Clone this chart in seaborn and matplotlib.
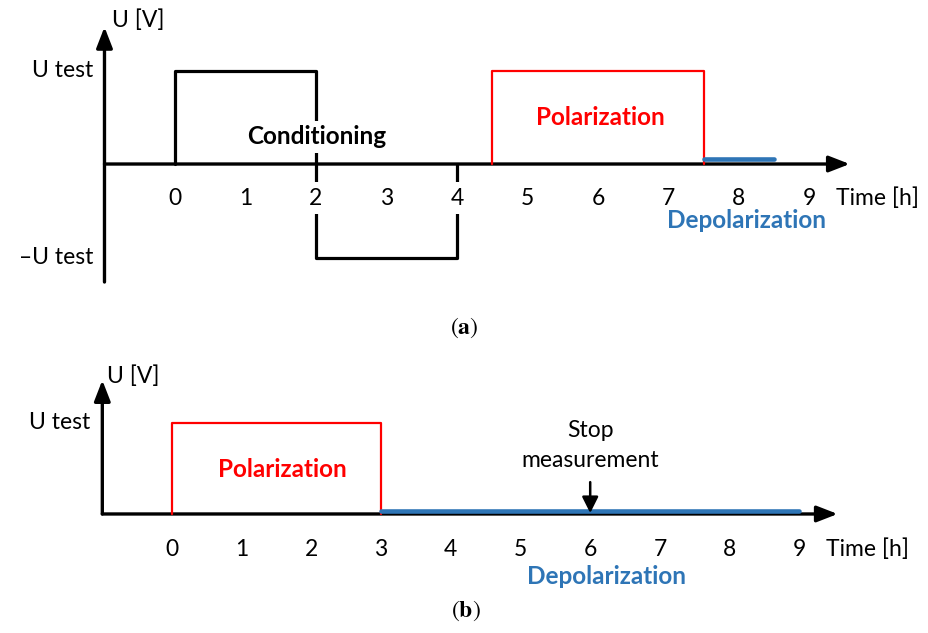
import matplotlib
matplotlib.use("Agg")
import matplotlib.pyplot as plt
import seaborn as sns
import pandas as pd

# panel (a): conditioning square wave, then polarization / depolarization
cond_t = [0, 0, 2, 2, 4, 4]
cond_u = [0, 1, 1, -1, -1, 0]
pol_a_t = [4.5, 4.5, 7.5, 7.5]
pol_a_u = [0, 1, 1, 0]
depol_a_t = [7.5, 8.5]

# panel (b): polarization, then long depolarization with stop marker
pol_b_t = [0, 0, 3, 3]
pol_b_u = [0, 1, 1, 0]
depol_b_t = [3, 9]
stop_t = 6

hours = list(range(10))

RED = "#FF0000"
BLUE = "#2E75B6"

sns.set_style("white")
plt.rcParams["font.family"] = ["Lato", "DejaVu Sans"]
plt.rcParams["text.color"] = "black"
plt.rcParams["mathtext.fontset"] = "stix"

fig = plt.figure(figsize=(9.29, 6.33), dpi=100)
ax_a = fig.add_axes([0, 1 - 340 / 633, 1, 340 / 633])
ax_b = fig.add_axes([0, 0, 1, 293 / 633])
for ax in (ax_a, ax_b):
    ax.set_axis_off()

ax_a.set_xlim(-2.482, 10.695)
ax_a.set_ylim(-1.882, 1.754)
ax_b.set_xlim(-2.468, 10.861)
ax_b.set_ylim(-1.308, 1.912)

FS = 16.5
FSB = 17.5
arrow = dict(arrowstyle="-|>,head_length=0.9,head_width=0.35", color="black", lw=2.4,
             shrinkA=0, shrinkB=0, mutation_scale=14)


def draw_axes(ax, y_bottom, y_top, x_end, tick_y, ulab_x, ulab_y, test_x, neg):
    ax.annotate("", xy=(-1.0, y_top), xytext=(-1.0, y_bottom), arrowprops=arrow, zorder=2)
    ax.annotate("", xy=(x_end, 0), xytext=(-1.0, 0), arrowprops=arrow, zorder=2)
    for h in hours:
        ax.text(h, tick_y, str(h), ha="center", va="center", fontsize=FS, zorder=6,
                bbox=dict(facecolor="white", edgecolor="none", pad=4))
    ax.text(9.38, tick_y, "Time [h]", ha="left", va="center", fontsize=FS)
    ax.text(ulab_x, ulab_y, "U [V]", ha="left", va="center", fontsize=FS)
    ax.text(test_x, 1, "U test", ha="right", va="center", fontsize=FS)
    if neg:
        ax.text(test_x, -1, "\u2013U test", ha="right", va="center", fontsize=FS)


# ---- panel (a)
draw_axes(ax_a, -1.262, 1.465, 9.57, -0.364, -0.89, 1.54, -1.16, True)
df_cond = pd.DataFrame({"t": cond_t, "u": cond_u})
sns.lineplot(data=df_cond, x="t", y="u", sort=False, estimator=None, color="black",
             lw=2.3, ax=ax_a, zorder=3)
df_pa = pd.DataFrame({"t": pol_a_t, "u": pol_a_u})
sns.lineplot(data=df_pa, x="t", y="u", sort=False, estimator=None, color=RED,
             lw=1.6, ax=ax_a, zorder=3)
sns.lineplot(x=depol_a_t, y=[0.05, 0.05], color=BLUE, lw=3.3, ax=ax_a, zorder=4,
             solid_capstyle="round")
ax_a.text(2.01, 0.29, "Conditioning", ha="center", va="center", fontsize=FSB,
          fontweight="bold", color="black", zorder=7,
          bbox=dict(facecolor="white", edgecolor="none", pad=3))
ax_a.text(6.04, 0.50, "Polarization", ha="center", va="center", fontsize=FSB,
          fontweight="bold", color=RED)
ax_a.text(8.1, -0.6, "Depolarization", ha="center", va="center", fontsize=FSB,
          fontweight="bold", color=BLUE, zorder=8)

# ---- panel (b)
draw_axes(ax_b, 0, 1.47, 9.55, -0.385, -0.93, 1.516, -1.18, False)
df_pb = pd.DataFrame({"t": pol_b_t, "u": pol_b_u})
sns.lineplot(data=df_pb, x="t", y="u", sort=False, estimator=None, color=RED,
             lw=1.6, ax=ax_b, zorder=3)
sns.lineplot(x=depol_b_t, y=[0.035, 0.035], color=BLUE, lw=3.3, ax=ax_b, zorder=4,
             solid_capstyle="round")
ax_b.annotate("", xy=(stop_t, 0.01), xytext=(stop_t, 0.35),
              arrowprops=dict(arrowstyle="-|>,head_length=0.7,head_width=0.35",
                              color="black", lw=1.8, shrinkA=0, shrinkB=0,
                              mutation_scale=14), zorder=5)
ax_b.text(stop_t, 0.75, "Stop\nmeasurement", ha="center", va="center", fontsize=FS,
          linespacing=1.5)
ax_b.text(1.58, 0.49, "Polarization", ha="center", va="center", fontsize=FSB,
          fontweight="bold", color=RED)
ax_b.text(6.23, -0.69, "Depolarization", ha="center", va="center", fontsize=FSB,
          fontweight="bold", color=BLUE, zorder=8)

# captions
fig.text(0.4995, 1 - 328 / 633, r"$(\mathbf{a})$", ha="center", va="center", fontsize=17)
fig.text(0.5016, 1 - 611 / 633, r"$(\mathbf{b})$", ha="center", va="center", fontsize=17)

fig.savefig("out.png", dpi=100)
